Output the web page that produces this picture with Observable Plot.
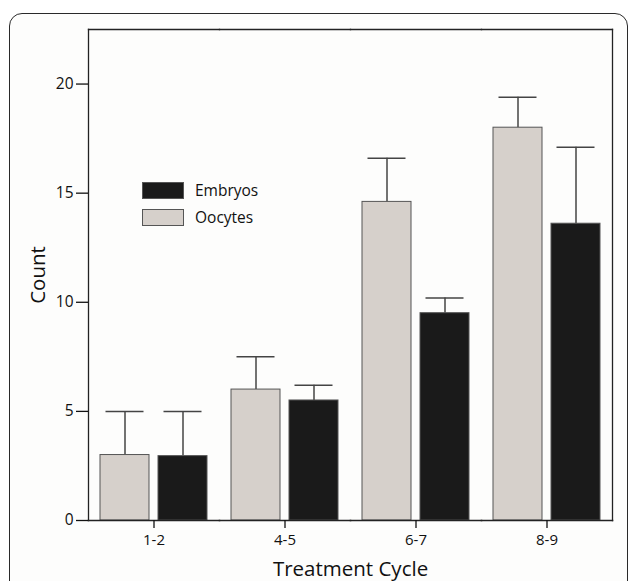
<!DOCTYPE html>
<html>
<head>
<meta charset="utf-8">
<script src="https://cdn.jsdelivr.net/npm/d3@7"></script>
<script src="https://cdn.jsdelivr.net/npm/@observablehq/plot@0.6"></script>
<style>
  html, body { margin: 0; padding: 0; background: #ffffff; }
  #wrap { position: relative; width: 629px; height: 581px; overflow: hidden; font-family: "Open Sans", sans-serif; }
  #outer { position: absolute; left: 9px; top: 13px; width: 617px; height: 640px; border: 1.6px solid #2a2a2a; border-radius: 13px; background: #fdfdfc; }
  #chart { position: absolute; left: 0; top: 0; }
  #legend { position: absolute; left: 142px; top: 181px; font-size: 15.5px; color: #111; }
  .item { display: flex; align-items: center; height: 18px; margin-bottom: 9px; }
  .sw { width: 42px; height: 17px; box-sizing: border-box; border: 1px solid #555; margin-right: 11px; }
</style>
</head>
<body>
<div id="wrap">
  <div id="outer"></div>
  <div id="chart"></div>
  <div id="legend"></div>
</div>
<script>
const categories = ["1-2", "4-5", "6-7", "8-9"];
const seriesNames = ["Oocytes", "Embryos"];
const oocytes = [3.0, 6.0, 14.6, 18.0];
const oocytesErr = [2.0, 1.5, 2.0, 1.4];
const embryos = [2.95, 5.5, 9.5, 13.6];
const embryosErr = [2.05, 0.7, 0.7, 3.5];
const yTicks = [0, 5, 10, 15, 20];
const colors = ["#d6d0cb", "#1a1a1a"];

const rows = [];
categories.forEach((c, i) => {
  rows.push({cat: c, series: "Oocytes", value: oocytes[i], upper: oocytes[i] + oocytesErr[i]});
  rows.push({cat: c, series: "Embryos", value: embryos[i], upper: embryos[i] + embryosErr[i]});
});

const chart = Plot.plot({
  width: 629,
  height: 581,
  marginLeft: 87,
  marginRight: 17,
  marginTop: 29,
  marginBottom: 61,
  style: {fontFamily: "Open Sans, sans-serif", fontSize: "14px", color: "#111", background: "transparent"},
  fx: {domain: categories, padding: 0},
  x: {domain: seriesNames, paddingInner: 0.153, paddingOuter: 0.19, axis: null},
  y: {domain: [0, 22.5]},
  color: {domain: seriesNames, range: colors},
  marks: [
    Plot.ruleX(rows, {fx: "cat", x: "series", y1: "value", y2: "upper", stroke: "#444", strokeWidth: 1.5}),
    Plot.tickY(rows, {fx: "cat", x: "series", y: "upper", stroke: "#444", strokeWidth: 1.5, insetLeft: 5.5, insetRight: 5.5}),
    Plot.barY(rows, {fx: "cat", x: "series", y: "value", fill: "series", stroke: "#555", strokeWidth: 1}),
    Plot.frame({anchor: "top", stroke: "#222", strokeWidth: 1.3}),
    Plot.frame({anchor: "bottom", stroke: "#222", strokeWidth: 1.6}),
    Plot.frame({anchor: "left", facetAnchor: "left", stroke: "#222", strokeWidth: 1.3}),
    Plot.frame({anchor: "right", facetAnchor: "right", stroke: "#222", strokeWidth: 1.3}),
    Plot.axisY({ticks: yTicks, tickSize: 12, tickPadding: 3, strokeWidth: 1.3, fontSize: 15, label: "Count", labelAnchor: "center", labelArrow: false, labelOffset: 58}),
    Plot.axisFx({anchor: "bottom", tickSize: 8, tickPadding: 6, strokeWidth: 1.3, fontSize: 14.5, label: "Treatment Cycle", labelAnchor: "center", labelArrow: false, labelOffset: 55})
  ]
});
document.getElementById("chart").appendChild(chart);

// text sizing per axis element
chart.querySelectorAll("g[aria-label]").forEach(g => {
  const a = g.getAttribute("aria-label");
  let size = null;
  if (a === "y-axis label" || a === "fx-axis label") size = "20.5px";
  else if (a === "y-axis tick label") size = "15.5px";
  else if (a === "fx-axis tick label") size = "15px";
  if (size) g.querySelectorAll("text").forEach(t => { t.style.fontSize = size; t.style.fill = "#111"; });
});

const legend = document.getElementById("legend");
[["Embryos", colors[1]], ["Oocytes", colors[0]]].forEach(([name, col]) => {
  const item = document.createElement("div");
  item.className = "item";
  const sw = document.createElement("div");
  sw.className = "sw";
  sw.style.background = col;
  const t = document.createElement("span");
  t.textContent = name;
  item.appendChild(sw);
  item.appendChild(t);
  legend.appendChild(item);
});
</script>
</body>
</html>
